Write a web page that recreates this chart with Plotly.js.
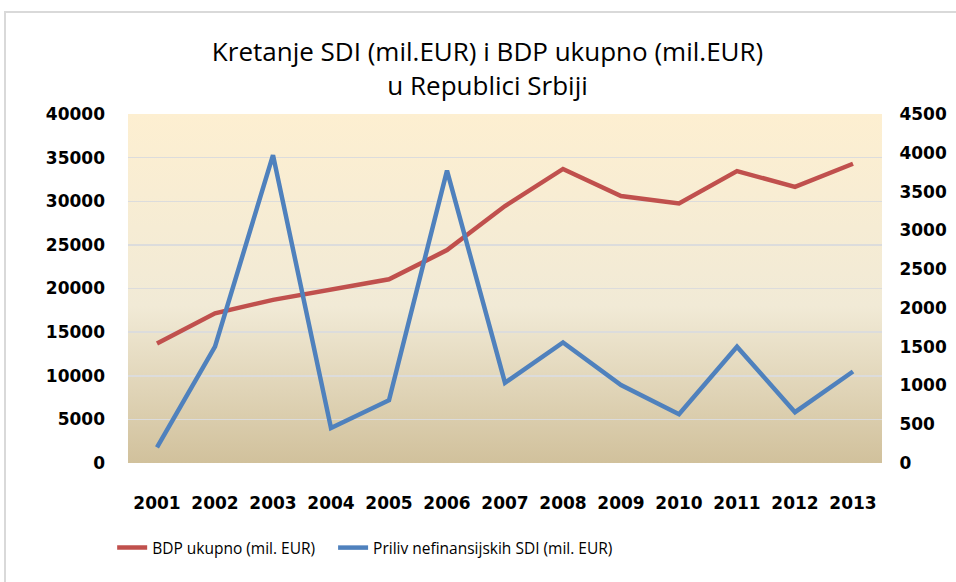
<!DOCTYPE html>
<html>
<head>
<meta charset="utf-8">
<script src="https://cdn.plot.ly/plotly-3.0.1.min.js"></script>
<style>
html,body{margin:0;padding:0;background:#fff;}
#chart{width:956px;height:582px;}
</style>
</head>
<body>
<div id="chart"></div>
<script>
const years = ['2001','2002','2003','2004','2005','2006','2007','2008','2009','2010','2011','2012','2013'];
const bdpUkupno = [13700, 17150, 18700, 19900, 21050, 24400, 29450, 33700, 30600, 29750, 33450, 31650, 34300];
const prilivSDI = [200, 1500, 3970, 450, 810, 3770, 1035, 1555, 1005, 630, 1500, 655, 1180];
const bdpName = 'BDP ukupno (mil. EUR)';
const sdiName = 'Priliv nefinansijskih SDI (mil. EUR)';
const titleText = 'Kretanje SDI (mil.EUR) i BDP ukupno (mil.EUR)<br>u Republici Srbiji';

const gradSvg = '<svg xmlns="http://www.w3.org/2000/svg" width="100" height="100" preserveAspectRatio="none">' +
  '<defs><linearGradient id="g" x1="0" y1="0" x2="0" y2="1">' +
  '<stop offset="0" stop-color="#FDEFD1"/>' +
  '<stop offset="0.55" stop-color="#F1EAD6"/>' +
  '<stop offset="1" stop-color="#D1C19C"/>' +
  '</linearGradient></defs><rect width="100" height="100" fill="url(#g)"/></svg>';
const gradUri = 'data:image/svg+xml;base64,' + btoa(gradSvg);

const tickFont = {family: 'DejaVu Sans', size: 17, color: '#000', weight: 700};
const legendFont = {family: 'Open Sans', size: 15.5, color: '#000'};

const traces = [
  {x: years, y: bdpUkupno, name: bdpName, type: 'scatter', mode: 'lines',
   line: {color: '#C0504D', width: 4.5}, yaxis: 'y', legend: 'legend'},
  {x: years, y: prilivSDI, name: sdiName, type: 'scatter', mode: 'lines',
   line: {color: '#4F81BD', width: 4.5}, yaxis: 'y2', legend: 'legend2'}
];

const layout = {
  width: 956, height: 582,
  margin: {l: 128, r: 74, t: 114, b: 119},
  paper_bgcolor: '#ffffff',
  plot_bgcolor: 'rgba(0,0,0,0)',
  title: {text: titleText, x: 0.51, xanchor: 'center', yref: 'container', y: 0.895, yanchor: 'top',
          font: {family: 'Open Sans', size: 26, color: '#000'}},
  showlegend: true,
  legend: {orientation: 'h', x: -0.021, xanchor: 'left', y: -0.2436, yanchor: 'middle',
           font: legendFont, itemwidth: 30, bgcolor: 'rgba(0,0,0,0)'},
  legend2: {orientation: 'h', x: 0.272, xanchor: 'left', y: -0.2436, yanchor: 'middle',
           font: legendFont, itemwidth: 30, bgcolor: 'rgba(0,0,0,0)'},
  xaxis: {type: 'category', range: [-0.5, 12.5], tickfont: tickFont, showgrid: false, zeroline: false,
          showline: false, ticks: '', ticklabelstandoff: 28, fixedrange: true},
  yaxis: {range: [0, 40000], dtick: 5000, tickformat: 'd', tickfont: tickFont, showgrid: true,
          gridcolor: '#DCDCDC', gridwidth: 1.5, zeroline: false, showline: false,
          ticks: '', ticklabelstandoff: 22, fixedrange: true},
  yaxis2: {range: [0, 4500], dtick: 500, tickformat: 'd', overlaying: 'y', side: 'right', tickfont: tickFont,
           showgrid: false, zeroline: false, showline: false, ticks: 'outside', ticklen: 13,
           tickcolor: 'rgba(0,0,0,0)', fixedrange: true},
  images: [{source: gradUri, xref: 'paper', yref: 'paper', x: 0, y: 1, sizex: 1, sizey: 1,
            sizing: 'stretch', xanchor: 'left', yanchor: 'top', layer: 'below'}],
  shapes: [{type: 'rect', xref: 'paper', yref: 'paper', x0: -0.1631, x1: 1.2, y0: -0.45, y1: 1.2923,
            line: {color: '#D9D9D9', width: 2}, fillcolor: 'rgba(0,0,0,0)', layer: 'below'}]
};

Plotly.newPlot('chart', traces, layout, {displayModeBar: false, staticPlot: true});
</script>
</body>
</html>
